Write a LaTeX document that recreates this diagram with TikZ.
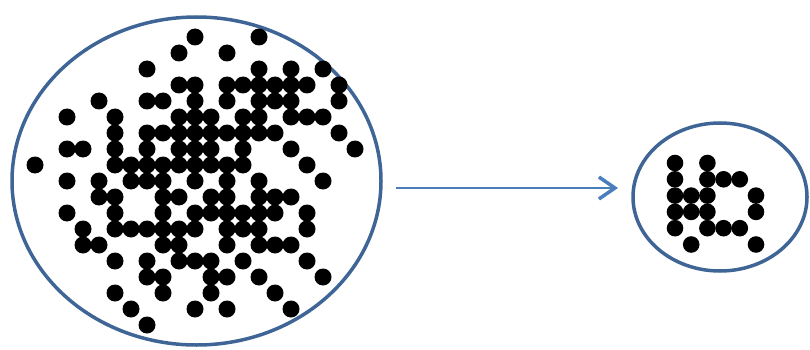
\documentclass[tikz,border=0pt]{standalone}
\usetikzlibrary{shapes.geometric,arrows.meta}
\definecolor{ellblue}{HTML}{3F6596}
\definecolor{arrblue}{HTML}{4A7EBB}
\tikzset{
  ring/.style={draw=ellblue, line width=3.5pt, ellipse, inner sep=0pt, outer sep=0pt},
  conn/.style={draw=arrblue, line width=2pt, -{Straight Barb[length=16pt, width=22pt, line width=3.5pt]}}
}
\begin{document}
\begin{tikzpicture}[x=1pt,y=-1pt]
\useasboundingbox (0,0) rectangle (810,350);
% containers
\node[ring, minimum width=369pt, minimum height=328pt] (big) at (196.5,181) {};
\node[ring, minimum width=174pt, minimum height=148pt] (small) at (720,197) {};
% dots in the large region
\foreach \r/\cols in {
  0/{10,14},
  1/{9,12},
  2/{7,14,16,18},
  3/{9,10,12,13,14,15,16,17,19},
  4/{4,7,8,10,12,14,15,16,19},
  5/{2,5,9,10,11,13,14,16,17,18},
  6/{5,7,8,9,10,11,12,13,14,15,19},
  7/{2,3,5,7,9,10,11,13,16,20},
  8/{0,5,6,7,8,9,10,11,12,13,17},
  9/{2,4,6,7,8,10,12,14,18},
  10/{4,5,8,9,11,12,14,15,16},
  11/{2,5,8,10,11,12,13,14,15,17},
  12/{3,5,6,7,8,9,10,12,13,14,17},
  13/{3,4,8,9,12,14,15,16},
  14/{5,7,9,10,11,13,17},
  15/{7,8,11,12,14,18},
  16/{5,8,11,15},
  17/{6,10,12,16},
  18/{7}}{
  \foreach \c in \cols {
    \fill[black] (35+16*\c, 37+16*\r) circle (8.5pt);
  }
}
% dots in the small region
\foreach \r/\cols in {
  0/{0,2},
  1/{0,2,3,4},
  2/{0,1,2,5},
  3/{0,1,2,5},
  4/{0,2,3,4},
  5/{1,5}}{
  \foreach \c in \cols {
    \fill[black] (675+16.2*\c, 163+16.3*\r) circle (8.3pt);
  }
}
% connector
\coordinate (from) at (396,188);
\coordinate (to) at (618,188);
\draw[conn] (from) -- (to);
\end{tikzpicture}
\end{document}
